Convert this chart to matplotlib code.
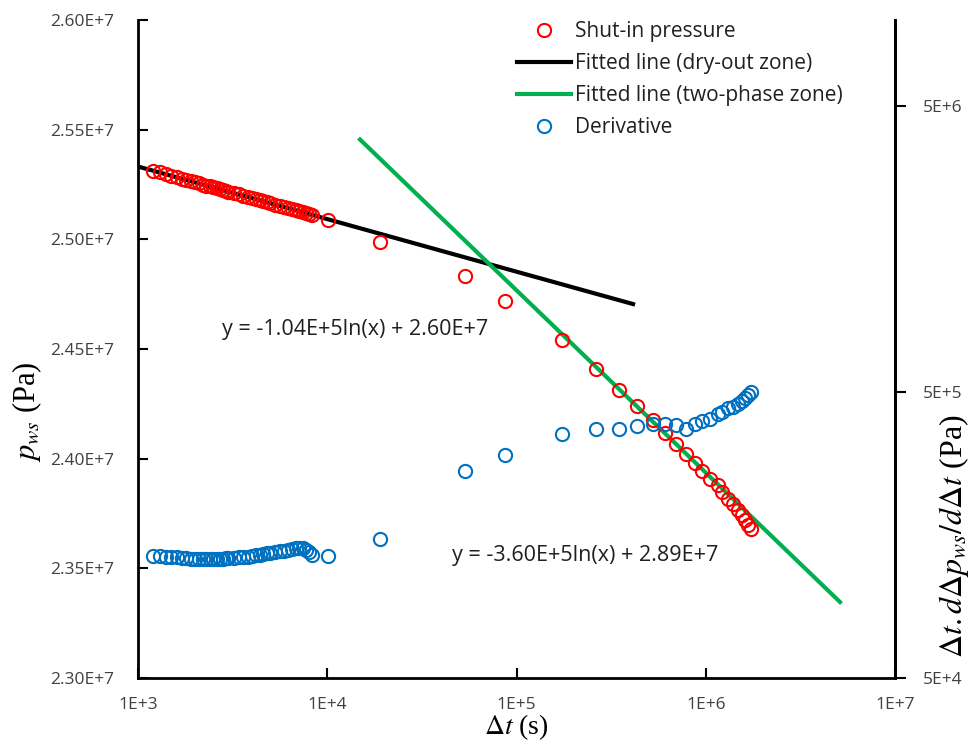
import matplotlib
matplotlib.use("Agg")
import matplotlib.pyplot as plt
import numpy as np
from matplotlib.ticker import FixedLocator, FuncFormatter, NullLocator
from matplotlib.lines import Line2D

# ---------------- data ----------------
time_s = [1200, 1300, 1400, 1500, 1600, 1700, 1800, 1900, 2000, 2100, 2200, 2300,
          2400, 2500, 2600, 2700, 2800, 2900, 3000, 3200, 3400, 3600, 3800, 4000,
          4200, 4400, 4600, 4800, 5000, 5300, 5600, 5900, 6200, 6500, 6800, 7100,
          7400, 7700, 8000, 8300, 10100, 19000,
          53500, 86900, 173900, 263000, 348000, 433000, 526000, 609000, 696000,
          787000, 878000, 956000, 1054000, 1161000, 1219000, 1312000, 1394000,
          1480000, 1554000, 1612000, 1673000, 1735000]

shut_in_pressure = [2.5313e7, 2.5305e7, 2.5297e7, 2.5290e7, 2.5283e7, 2.5277e7, 2.5271e7,
                    2.5265e7, 2.5260e7, 2.5255e7, 2.5250e7, 2.5245e7, 2.5241e7, 2.5237e7,
                    2.5232e7, 2.5229e7, 2.5225e7, 2.5221e7, 2.5218e7, 2.5211e7, 2.5205e7,
                    2.5199e7, 2.5193e7, 2.5188e7, 2.5183e7, 2.5178e7, 2.5173e7, 2.5169e7,
                    2.5164e7, 2.5158e7, 2.5153e7, 2.5147e7, 2.5142e7, 2.5137e7, 2.5132e7,
                    2.5128e7, 2.5124e7, 2.5119e7, 2.5116e7, 2.5112e7, 2.5090e7, 2.4990e7,
                    2.4835e7, 2.4719e7, 2.4541e7, 2.4408e7, 2.4312e7, 2.4239e7, 2.4175e7,
                    2.4115e7, 2.4065e7, 2.4019e7, 2.3978e7, 2.3946e7, 2.3909e7, 2.3882e7,
                    2.3850e7, 2.3818e7, 2.3795e7, 2.3768e7, 2.3745e7, 2.3722e7, 2.3699e7,
                    2.3681e7]

derivative = [1.335e5, 1.335e5, 1.330e5, 1.325e5, 1.320e5, 1.315e5, 1.310e5, 1.305e5,
              1.300e5, 1.300e5, 1.300e5, 1.300e5, 1.300e5, 1.300e5, 1.300e5, 1.305e5,
              1.305e5, 1.310e5, 1.310e5, 1.315e5, 1.320e5, 1.325e5, 1.330e5, 1.340e5,
              1.345e5, 1.350e5, 1.360e5, 1.365e5, 1.370e5, 1.380e5, 1.385e5, 1.390e5,
              1.400e5, 1.410e5, 1.420e5, 1.425e5, 1.420e5, 1.400e5, 1.375e5, 1.345e5,
              1.335e5, 1.530e5,
              2.65e5, 3.01e5, 3.57e5, 3.71e5, 3.72e5, 3.80e5, 3.86e5, 3.86e5, 3.83e5,
              3.71e5, 3.86e5, 3.96e5, 4.02e5, 4.19e5, 4.26e5, 4.38e5, 4.45e5, 4.54e5,
              4.66e5, 4.77e5, 4.88e5, 5.00e5]

# fitted lines: p = slope*ln(t) + intercept over [t_start, t_end]
dry_slope, dry_intercept = -1.041e5, 2.6051e7
dry_range = [1000, 413000]
two_slope, two_intercept = -3.611e5, 2.8925e7
two_range = [14900, 5120000]

eq_dry = "y = -1.04E+5ln(x) + 2.60E+7"
eq_two = "y = -3.60E+5ln(x) + 2.89E+7"

left_ticks = [2.30e7, 2.35e7, 2.40e7, 2.45e7, 2.50e7, 2.55e7, 2.60e7]
x_ticks = [1e3, 1e4, 1e5, 1e6, 1e7]
right_ticks = [5e4, 5e5, 5e6]

# ---------------- style ----------------
plt.rcParams['font.family'] = ['Open Sans', 'DejaVu Sans']
plt.rcParams['mathtext.fontset'] = 'stix'
RED = '#FF0000'
BLUE = '#0070C0'
GREEN = '#00B050'
TICK_FS = 12.5
TITLE_FS = 22
TXT = '#404040'

W, H = 972, 743
fig = plt.figure(figsize=(W/100, H/100), dpi=100)
ax = fig.add_axes([138/W, 1-678/H, (895-138)/W, (678-20)/H])
ax.set_xscale('log')
ax.set_xlim(1e3, 1e7)
ax.set_ylim(2.30e7, 2.60e7)

def fitline(slope, intercept, rng):
    t = np.logspace(np.log10(rng[0]), np.log10(rng[1]), 200)
    return t, slope*np.log(t) + intercept

t1, p1 = fitline(dry_slope, dry_intercept, dry_range)
t2, p2 = fitline(two_slope, two_intercept, two_range)
ax.plot(t1, p1, color='black', lw=3, zorder=2)
ax.plot(t2, p2, color=GREEN, lw=3, zorder=2)
ax.plot(time_s, shut_in_pressure, 'o', mfc='none', mec=RED, mew=1.5, ms=9.5, zorder=3)

ax.yaxis.set_major_locator(FixedLocator(left_ticks))
ax.yaxis.set_major_formatter(FuncFormatter(lambda v, p: f"{v/1e7:.2f}E+7"))
ax.xaxis.set_major_locator(FixedLocator(x_ticks))
ax.xaxis.set_minor_locator(NullLocator())
ax.xaxis.set_major_formatter(FuncFormatter(lambda v, p: f"1E+{int(round(np.log10(v)))}"))
ax.tick_params(axis='y', direction='in', length=7, width=1.5, labelsize=TICK_FS, pad=17)
ax.tick_params(axis='x', direction='in', length=7, width=1.5, labelsize=TICK_FS, pad=14)
for tl in ax.get_yticklabels() + ax.get_xticklabels():
    tl.set_color(TXT)
ax.spines['top'].set_visible(False)
for s in ['left', 'bottom', 'right']:
    ax.spines[s].set_linewidth(2)

ax2 = ax.twinx()
ax2.set_yscale('log')
ax2.set_ylim(5e4, 1e7)
ax2.plot(time_s, derivative, 'o', mfc='none', mec=BLUE, mew=1.5, ms=9.5, zorder=3)
ax2.yaxis.set_major_locator(FixedLocator(right_ticks))
ax2.yaxis.set_minor_locator(NullLocator())
ax2.yaxis.set_major_formatter(FuncFormatter(lambda v, p: f"5E+{int(round(np.log10(v/5)))}"))
ax2.tick_params(axis='y', direction='out', length=8, width=1.5, labelsize=TICK_FS, pad=12)
for tl in ax2.get_yticklabels():
    tl.set_color(TXT)
ax2.spines['top'].set_visible(False)
ax2.spines['right'].set_linewidth(2)

# axis titles
fig.text(27/W, 1-412/H, r"$p_{ws}$ (Pa)", family='Liberation Serif', fontsize=TITLE_FS,
         rotation=90, ha='center', va='center')
fig.text(954/W, 1-536/H, r"$\Delta t.d\Delta p_{ws}/d\Delta t$ (Pa)", family='Liberation Serif',
         fontsize=TITLE_FS + 1, rotation=90, ha='center', va='center')
fig.text(516/W, 1-727/H, r"$\Delta t$ (s)", family='Liberation Serif', fontsize=20,
         ha='center', va='center')

fig.text(222/W, 1-329/H, eq_dry, fontsize=15.5, color='#202020', va='center', ha='left')
fig.text(452/W, 1-556/H, eq_two, fontsize=15.5, color='#202020', va='center', ha='left')

handles = [
    Line2D([], [], ls='none', marker='o', mfc='none', mec=RED, mew=1.5, ms=9.5),
    Line2D([], [], color='black', lw=3),
    Line2D([], [], color=GREEN, lw=3),
    Line2D([], [], ls='none', marker='o', mfc='none', mec=BLUE, mew=1.5, ms=9.5),
]
labels = ["Shut-in pressure", "Fitted line (dry-out zone)", "Fitted line (two-phase zone)", "Derivative"]
leg = ax2.legend(handles, labels, loc='upper left', bbox_to_anchor=(517/W, 1-21/H),
                 bbox_transform=fig.transFigure, frameon=False, fontsize=15,
                 handlelength=2.6, handletextpad=0.2, labelspacing=0.53, borderpad=0,
                 borderaxespad=0)
for t in leg.get_texts():
    t.set_color('#202020')

fig.savefig("out.png", dpi=100)
